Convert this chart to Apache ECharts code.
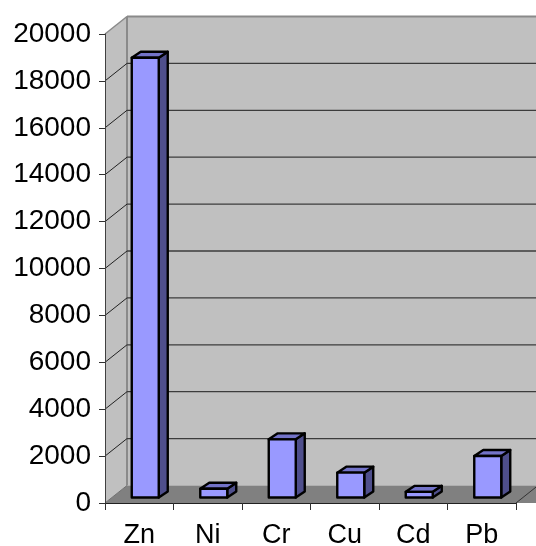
<!DOCTYPE html>
<html>
<head>
<meta charset="utf-8">
<style>
  html, body { margin: 0; padding: 0; background: #ffffff; }
  #chart { width: 536px; height: 546px; }
</style>
<script src="https://cdn.jsdelivr.net/npm/echarts@6/dist/echarts.min.js"></script>
</head>
<body>
<div id="chart"></div>
<script>
// Metal concentrations
const categories = ['Zn', 'Ni', 'Cr', 'Cu', 'Cd', 'Pb'];
const values = [18750, 370, 2480, 1060, 240, 1770];
const gridValues = [2000, 4000, 6000, 8000, 10000, 12000, 14000, 16000, 18000];

// depth of the box (back wall offset) and of each bar
const DX = 22, DY = -17.5;
const FX = 6, FY = -5.5;      // front face of a bar, offset from the front plane
const BX = 9, BY = -6;        // bar depth
const BAR_RATIO = 0.394;

const chart = echarts.init(document.getElementById('chart'), null, { renderer: 'canvas' });

function wallsItem(params, api) {
  const cs = params.coordSys;
  const x = cs.x, y = cs.y, xr = cs.x + cs.width, yb = cs.y + cs.height;
  const farRight = xr + DX + 40;
  return {
    type: 'group',
    children: [
      { type: 'polygon', shape: { points: [[x, y], [x + DX, y + DY], [x + DX, yb + DY], [x, yb]] },
        style: { fill: '#c0c0c0' } },
      { type: 'rect', shape: { x: x + DX, y: y + DY, width: farRight - x - DX, height: cs.height },
        style: { fill: '#c0c0c0' } },
      { type: 'polygon', shape: { points: [[x, yb], [x + DX, yb + DY], [farRight, yb + DY], [xr + 40, yb]] },
        style: { fill: '#808080' } },
      { type: 'line', shape: { x1: x + DX, y1: y + DY, x2: farRight, y2: y + DY },
        style: { stroke: '#8a8a8a', lineWidth: 2 } },
      { type: 'line', shape: { x1: x + DX, y1: y + DY, x2: x + DX, y2: yb + DY },
        style: { stroke: '#8a8a8a', lineWidth: 2 } },
      { type: 'line', shape: { x1: x, y1: y, x2: x + DX, y2: y + DY },
        style: { stroke: '#8a8a8a', lineWidth: 1.5 } },
      { type: 'line', shape: { x1: x, y1: yb, x2: x + DX, y2: yb + DY },
        style: { stroke: '#707070', lineWidth: 1 } },
      { type: 'line', shape: { x1: xr, y1: yb, x2: xr + DX, y2: yb + DY },
        style: { stroke: '#333333', lineWidth: 1 } }
    ]
  };
}

function gridItem(params, api) {
  const cs = params.coordSys;
  const v = api.value(1);
  const p = api.coord([0, v]);
  const y = p[1];
  const x = cs.x, xr = cs.x + cs.width;
  return {
    type: 'group',
    children: [
      { type: 'line', shape: { x1: x + DX, y1: y + DY, x2: xr + DX + 40, y2: y + DY },
        style: { stroke: '#3c3c3c', lineWidth: 1.3 } },
      { type: 'line', shape: { x1: x, y1: y, x2: x + DX, y2: y + DY },
        style: { stroke: '#222222', lineWidth: 1 } }
    ]
  };
}

function barItem(params, api) {
  const i = api.value(0);
  const v = api.value(1);
  const base = api.coord([i, 0]);
  const top = api.coord([i, v]);
  const w = api.size([1, 0])[0] * BAR_RATIO;
  const x0 = base[0] + FX - w / 2, x1 = x0 + w;
  const yt = top[1] + FY, yb = base[1] + FY;
  const stroke = { stroke: '#000000', lineWidth: 2.4, lineJoin: 'round' };
  return {
    type: 'group',
    children: [
      { type: 'polygon', shape: { points: [[x1, yt], [x1 + BX, yt + BY], [x1 + BX, yb + BY], [x1, yb]] },
        style: Object.assign({ fill: '#4f4f8c' }, stroke) },
      { type: 'polygon', shape: { points: [[x0, yt], [x0 + BX, yt + BY], [x1 + BX, yt + BY], [x1, yt]] },
        style: Object.assign({ fill: '#7373c8' }, stroke) },
      { type: 'rect', shape: { x: x0, y: yt, width: w, height: yb - yt },
        style: Object.assign({ fill: '#9999ff' }, stroke) }
    ]
  };
}

const labelFont = 'Liberation Sans, Arial, sans-serif';

chart.setOption({
  animation: false,
  backgroundColor: '#ffffff',
  grid: { left: 105, right: 20, top: 34, bottom: 43, containLabel: false, outerBoundsMode: 'none' },
  xAxis: {
    type: 'category',
    data: categories,
    z: 10,
    axisLine: { show: true, lineStyle: { color: '#202020', width: 1 } },
    axisTick: { show: true, length: 7, alignWithLabel: false, lineStyle: { color: '#303030' } },
    axisLabel: { margin: 19, fontSize: 27, color: '#000000', fontFamily: labelFont },
    splitLine: { show: false }
  },
  yAxis: {
    type: 'value',
    min: 0, max: 20000, interval: 2000,
    z: 10,
    axisLine: { show: true, lineStyle: { color: '#404040', width: 1 } },
    axisTick: { show: true, length: 6, lineStyle: { color: '#303030' } },
    axisLabel: { margin: 14, fontSize: 28, color: '#000000', fontFamily: labelFont,
      formatter: v => String(v) },
    splitLine: { show: false }
  },
  series: [
    { type: 'custom', z: 1, silent: true, renderItem: wallsItem, data: [[0, 0]] },
    { type: 'custom', z: 2, silent: true, renderItem: gridItem,
      data: gridValues.map(v => [0, v]) },
    { type: 'custom', z: 3, renderItem: barItem,
      data: values.map((v, i) => [i, v]) }
  ]
});
</script>
</body>
</html>
